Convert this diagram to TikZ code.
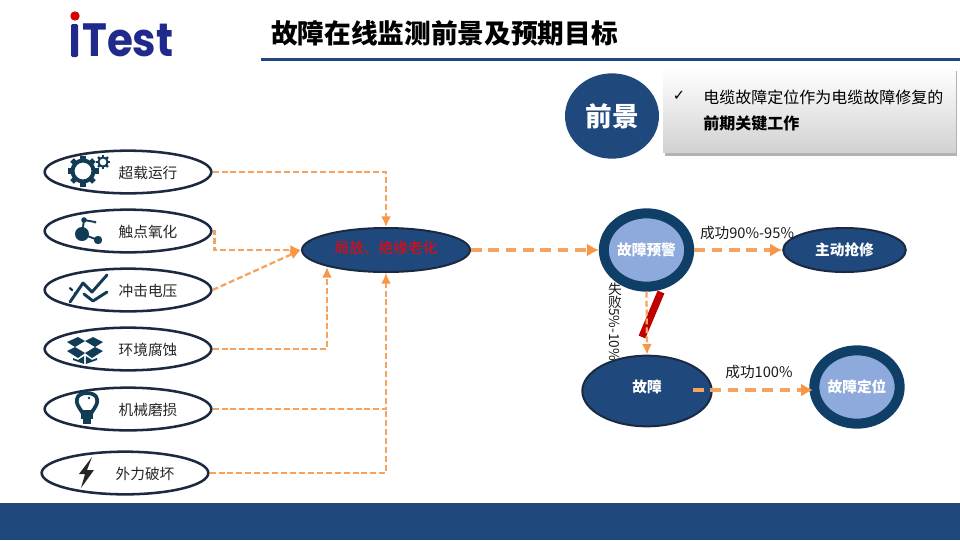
\documentclass[tikz,border=0pt]{standalone}
\usepackage{fontspec}
\setmainfont{Noto Sans CJK SC}
\newfontfamily\symfont{DejaVu Sans}
\newfontfamily\logofont{Poppins}
\usetikzlibrary{shapes.geometric,arrows.meta,shadows}
\definecolor{navy}{HTML}{1F497D}
\definecolor{deepnavy}{HTML}{0F3F66}
\definecolor{rimdark}{HTML}{1B2A41}
\definecolor{paleblue}{HTML}{8EA9DB}
\definecolor{dashorange}{HTML}{F4A460}
\definecolor{arroworange}{HTML}{F79646}
\definecolor{iconblue}{HTML}{123C55}
\definecolor{logoblue}{HTML}{1F2A8C}
\tikzset{
    causeshape/.style={ellipse,draw=rimdark,line width=1.9pt,fill=white,minimum width=125pt,minimum height=32pt,inner sep=0pt},
    causetext/.style={font=\fontsize{11}{13}\selectfont,text=black!85},
    darkshape/.style={ellipse,draw=rimdark,line width=1.5pt,fill=navy,inner sep=0pt,text=white,font=\fontsize{11}{13}\selectfont\bfseries},
    ringshape/.style={ellipse,draw=deepnavy,line width=7.5pt,fill=paleblue,inner sep=0pt,text=white,font=\fontsize{11}{13}\selectfont\bfseries},
    thinflow/.style={draw=dashorange,line width=1.7pt,dash pattern=on 4.5pt off 2.2pt,-{Latex[length=8pt,width=7.5pt,color=arroworange]}},
    thickflow/.style={draw=dashorange,line width=3pt,dash pattern=on 8pt off 5pt,-{Latex[length=9pt,width=10pt,color=arroworange]}},
    flowtext/.style={font=\fontsize{11}{13}\selectfont,text=black!90}
}
\begin{document}
\begin{tikzpicture}[x=0.75pt,y=-0.75pt]
    \useasboundingbox (0,0) rectangle (960,540);
    % header and footer
    \fill[navy] (0,503) rectangle (960,540);
    \fill[navy] (261,58) rectangle (960,61);
    \node[anchor=west,inner sep=0pt,font=\fontsize{20}{22}\selectfont\bfseries] (title) at (271,33) {故障在线监测前景及预期目标};
    \fill[logoblue,rounded corners=1pt] (71,24) rectangle (78,57);
    \fill[red!85!black] (75,16) circle[radius=4.7];
    \node[anchor=west,inner sep=0pt,text=logoblue,font=\logofont\fontsize{35}{35}\selectfont\bfseries] (logo) at (82,40) {\scalebox{0.9}[1]{Test}};

    % prospect box
    \node[ellipse,fill=navy,minimum width=70.5pt,minimum height=64pt,inner sep=0pt,text=white,font=\fontsize{20}{22}\selectfont\bfseries] (prospect) at (612,116) {前景};
    \node[rectangle,minimum width=219.5pt,minimum height=63.5pt,top color=white,bottom color=black!18,drop shadow={shadow xshift=1pt,shadow yshift=-2pt,opacity=.6}] (prospectbox) at (809.5,110.5) {};
    \node[inner sep=0pt,font=\symfont\fontsize{11}{13}\selectfont] (tick) at (679,96) {✓};
    \node[anchor=west,inner sep=0pt,font=\fontsize{12}{14}\selectfont] (boxline) at (703,97) {电缆故障定位作为电缆故障修复的};
    \node[anchor=west,inner sep=0pt,font=\fontsize{12}{14}\selectfont\bfseries] (boxbold) at (703,123) {前期关键工作};

    % causes
    \foreach \n/\x/\y/\t in {overload/128/172/超载运行,contact/128/231/触点氧化,surge/128/290/冲击电压,corrosion/128/349/环境腐蚀,wear/128/409/机械磨损,damage/125/473/外力破坏}
    {
        \node[causeshape] (\n) at (\x,\y) {};
        \node[causetext] (\n text) at (\x+20,\y+1) {\t};
    }

    % centre and outcomes
    \node[darkshape,minimum width=126pt,minimum height=33pt] (aging) at (386,250) {};
    \node[inner sep=0pt,text=red,font=\fontsize{11}{13}\selectfont] (agingtext) at (386,248) {局放、绝缘老化};
    \node[ringshape,minimum width=64pt,minimum height=55pt] (warning) at (646.5,250) {故障预警};
    \node[darkshape,minimum width=92pt,minimum height=33pt] (repair) at (844.5,250) {主动抢修};
    \node[darkshape,minimum width=97pt,minimum height=53pt] (fault) at (647,391) {};
    \node[inner sep=0pt,text=white,font=\fontsize{11}{13}\selectfont\bfseries] (faulttext) at (647,387) {故障};
    \node[ringshape,minimum width=64pt,minimum height=55pt] (locate) at (857,387) {故障定位};

    \coordinate (agingleft) at (327,267);
    \coordinate (wearjoin) at (386,409);
    \coordinate (faultstart) at (693,390);
    \coordinate (locateend) at (813,390);
    \coordinate (barstart) at (661,292);
    \coordinate (barend) at (642,337);

    \draw[thinflow] (overload.east) -| (aging.north);
    \draw[thinflow] (contact.east) -- ++(2,0) |- (aging.west);
    \draw[thinflow] (surge.east) -- (aging.west);
    \draw[thinflow] (corrosion.east) -| (agingleft);
    \draw[thinflow] (wear.east) -| (aging.south);
    \draw[thinflow,-] (damage.east) -| (wearjoin);

    \draw[thickflow] (aging.east) -- (warning.west);
    \draw[thickflow] (warning.east) -- (repair.west);
    \draw[thickflow] (faultstart) -- (locateend);
    \draw[line width=5.5pt,red!75!black] (barstart) -- (barend);
    \draw[thinflow] (warning.south) -- (fault.north);

    \node[flowtext,inner sep=0pt] (oklabel) at (747,233) {成功90\%-95\%};
    \node[flowtext,inner sep=0pt] (fulllabel) at (759,372) {成功100\%};
    \node[flowtext,inner sep=0pt,rotate=-90,font=\fontsize{10.3}{12}\selectfont] (faillabel) at (615,322) {\rotatebox[origin=c]{90}{失}\rotatebox[origin=c]{90}{败}5\%-10\%};

    % icons
    \foreach \a in {0,45,...,315}
    {
        \fill[iconblue,shift={(83,171)},rotate=\a] (-2.6,-15.5) rectangle (2.6,-10);
        \fill[iconblue,shift={(103,162)},rotate=\a] (-1.2,-7) rectangle (1.2,-4);
    }
    \draw[iconblue,line width=3pt] (83,171) circle[radius=10.5];
    \draw[iconblue,line width=1.5pt] (103,162) circle[radius=4.6];

    \draw[iconblue,line width=1.4pt] (82,234) -- (84,220) (82,234) -- (98,240) (84,220) -- (95,222);
    \fill[iconblue] (82,234) circle[radius=7];
    \fill[iconblue] (98,240) circle[radius=4.2];
    \fill[iconblue] (84,220) circle[radius=2.8];
    \fill[iconblue] (95,222) circle[radius=1.5];

    \draw[iconblue,line width=2.2pt,line cap=round,line join=round] (70,302) -- (83,283) -- (92,292) -- (107,275);
    \draw[iconblue,line width=2.2pt,line cap=round,line join=round] (84,294) -- (93,301) -- (107,292);
    \draw[iconblue,line width=1.6pt,line cap=round] (70,288) -- (72,290) (75,293) -- (76,294);

    \fill[iconblue] (67,342) -- (78,337) -- (85,341) -- (75,347) -- cycle;
    \fill[iconblue] (103,342) -- (93,337) -- (85,341) -- (95,347) -- cycle;
    \fill[iconblue] (67,351) -- (75,347) -- (85,353) -- (78,358) -- cycle;
    \fill[iconblue] (103,351) -- (95,347) -- (85,353) -- (92,358) -- cycle;
    \fill[iconblue] (73,358) -- (78,360) -- (84.2,356) -- (84.2,364) -- (73,360) -- cycle;
    \fill[iconblue] (97,358) -- (92,360) -- (85.8,356) -- (85.8,364) -- (97,360) -- cycle;

    \draw[iconblue,line width=2.8pt] (82,412) .. controls (78,406) and (76,403) .. (77,399) .. controls (78,391) and (96,391) .. (97,399) .. controls (98,403) and (96,406) .. (92,412) -- cycle;
    \fill[iconblue] (81,412) rectangle (93,419);
    \fill[iconblue] (83,419) rectangle (91,424);
    \fill[iconblue] (89,398) circle[radius=1.3];

    \fill[black!85] (92,457) -- (79,474) -- (85,474) -- (81,488) -- (94,470) -- (87,470) -- cycle;
\end{tikzpicture}
\end{document}
